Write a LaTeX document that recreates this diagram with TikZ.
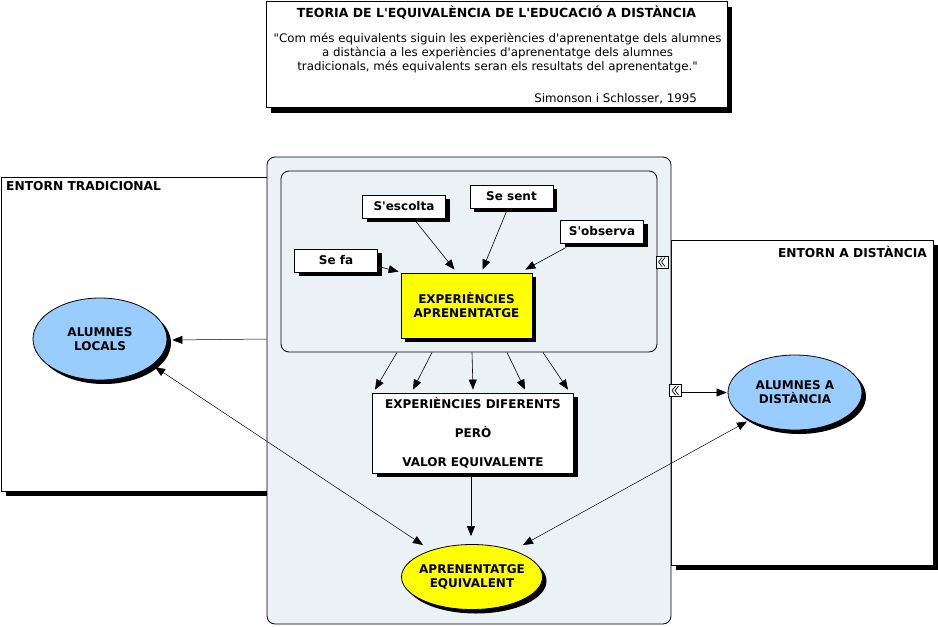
\documentclass[tikz,border=0pt]{standalone}
\usepackage{fontspec}
\setmainfont{DejaVu Sans}[Ligatures=TeXOff]
\usetikzlibrary{shapes.geometric,shadows,arrows.meta,calc}
\definecolor{panelfill}{HTML}{EBF2F5}
\definecolor{skyb}{HTML}{99CCFF}
\definecolor{yel}{HTML}{FFFF00}
\begin{document}
\begin{tikzpicture}[x=1pt,y=-1pt,
  shd/.style={drop shadow={shadow xshift=4pt,shadow yshift=-4pt,opacity=1,fill=black}},
  bigshd/.style={drop shadow={shadow xshift=5pt,shadow yshift=-5pt,opacity=1,fill=black}},
  frame/.style={draw,fill=white,line width=0.8pt,inner sep=0pt},
  panel/.style={draw,fill=panelfill,rounded corners=8pt,line width=0.8pt,inner sep=0pt},
  concept/.style={draw,line width=0.8pt,inner sep=0pt,align=center,font=\fontsize{12}{14}\selectfont\bfseries,shd},
  oval/.style={ellipse,draw,line width=0.8pt,inner sep=-20pt,align=center,font=\fontsize{12}{14}\selectfont\bfseries,shd},
  lab/.style={inner sep=0pt,font=\fontsize{12.25}{14}\selectfont\bfseries},
  txt/.style={inner sep=0pt,font=\fontsize{11.8}{14}\selectfont},
  arr/.style={-{Triangle[length=10pt,width=8pt]},line width=0.6pt},
  darr/.style={{Triangle[length=10pt,width=8pt]}-{Triangle[length=10pt,width=8pt]},line width=0.5pt},
  icon/.style={draw,fill=white,line width=0.8pt,minimum size=12pt,inner sep=0pt},
  chev/.style={line width=0.7pt}
]
\useasboundingbox (0,0) rectangle (938,627);

% header box
\node[frame,bigshd,minimum width=461pt,minimum height=106pt] (title) at (496.5,54.5) {};
\node[lab,font=\fontsize{12.5}{14}\selectfont\bfseries] (ttl) at (496.5,12.5) {TEORIA DE L'EQUIVALÈNCIA DE L'EDUCACIÓ A DISTÀNCIA};
\node[txt,align=center] (quote) at (497.5,53.5) {"Com més equivalents siguin les experiències d'aprenentatge dels alumnes\\
a distància a les experiències d'aprenentatge dels alumnes\\
tradicionals, més equivalents seran els resultats del aprenentatge."};
\node[txt,anchor=east] (auth) at (697,98.5) {Simonson i Schlosser, 1995};

% environments
\node[frame,bigshd,minimum width=269pt,minimum height=314pt] (trad) at (135.5,334) {};
\node[lab,anchor=west] (tradlab) at (6,186) {ENTORN TRADICIONAL};
\node[frame,bigshd,minimum width=262pt,minimum height=325pt] (dist) at (802,402.5) {};
\node[lab,anchor=east] (distlab) at (927,252) {ENTORN A DISTÀNCIA};

% central panels
\node[panel,minimum width=404pt,minimum height=467pt] (panel) at (469,390.5) {};
\node[panel,minimum width=376pt,minimum height=181pt] (inner) at (469,261.5) {};
\node[icon] (icon1) at (662,262) {};
\node[icon] (icon2) at (675.5,390.5) {};
\foreach \ic in {icon1,icon2}{
  \draw[chev] ($(\ic.center)+(0,-4.5)$) -- ++(-3.5,4.5) -- ++(3.5,4.5);
  \draw[chev] ($(\ic.center)+(3,-4.5)$) -- ++(-3.5,4.5) -- ++(3.5,4.5);
}

% concepts
\node[concept,fill=white,minimum width=83pt,minimum height=23pt] (sefa) at (336,260.5) {Se fa};
\node[concept,fill=white,minimum width=83pt,minimum height=23pt] (escolta) at (404,206.5) {S'escolta};
\node[concept,fill=white,minimum width=83pt,minimum height=23pt] (sent) at (511.5,196.5) {Se sent};
\node[concept,fill=white,minimum width=83pt,minimum height=23pt] (observa) at (602,231.5) {S'observa};
\node[concept,fill=yel,minimum width=131pt,minimum height=65pt] (exp) at (466.5,305.5) {EXPERIÈNCIES\\APRENENTATGE};
\node[concept,fill=white,minimum width=201pt,minimum height=80pt,align=center] (difer) at (473,433) {EXPERIÈNCIES DIFERENTS\\[15pt]PERÒ\\[15pt]VALOR EQUIVALENTE};
\node[oval,fill=yel,minimum width=141pt,minimum height=65pt] (apr) at (472,577) {APRENENTATGE\\EQUIVALENT};
\node[oval,fill=skyb,minimum width=134pt,minimum height=82pt] (locals) at (100,339) {ALUMNES\\LOCALS};
\node[oval,fill=skyb,minimum width=134pt,minimum height=75pt] (adist) at (795,392.5) {ALUMNES A\\DISTÀNCIA};

% connectors
\draw[arr] ($(sefa.east)+(0,6)$) -- ($(exp.north west)+(-2,-1)$);
\draw[arr] ($(escolta.south)+(11,2)$) -- ($(exp.north)+(-12,-3)$);
\draw[arr] ($(sent.south)+(-5,3)$) -- ($(exp.north)+(16,-3)$);
\draw[arr] ($(observa.south west)+(6,4)$) -- ($(exp.north east)+(-7,-3)$);

\draw[arr] ($(inner.south)+(-72,0)$) -- ($(difer.north)+(-98,-3)$);
\draw[arr] ($(inner.south)+(-37,0)$) -- ($(difer.north)+(-60,-3)$);
\draw[arr] ($(inner.south)+(3,0)$) -- ($(difer.north)+(0,-3)$);
\draw[arr] ($(inner.south)+(38,0)$) -- ($(difer.north)+(52,-3)$);
\draw[arr] ($(inner.south)+(74,0)$) -- ($(difer.north)+(95,-3)$);

\draw[arr] ($(difer.south)+(-2,0)$) -- ($(apr.north)+(-1,-8)$);
\draw[arr,line width=0.5pt] (panel.west |- locals) -- ($(locals.east)+(5,1)$);
\draw[arr] (icon2.east |- adist.west) -- ($(adist.west)+(-1,0)$);

\draw[darr] ($(locals.center)+(55,28)$) -- ($(apr.center)+(-49,-32)$);
\draw[darr] ($(adist.center)+(-48,29)$) -- ($(apr.center)+(51,-32)$);
\end{tikzpicture}
\end{document}
